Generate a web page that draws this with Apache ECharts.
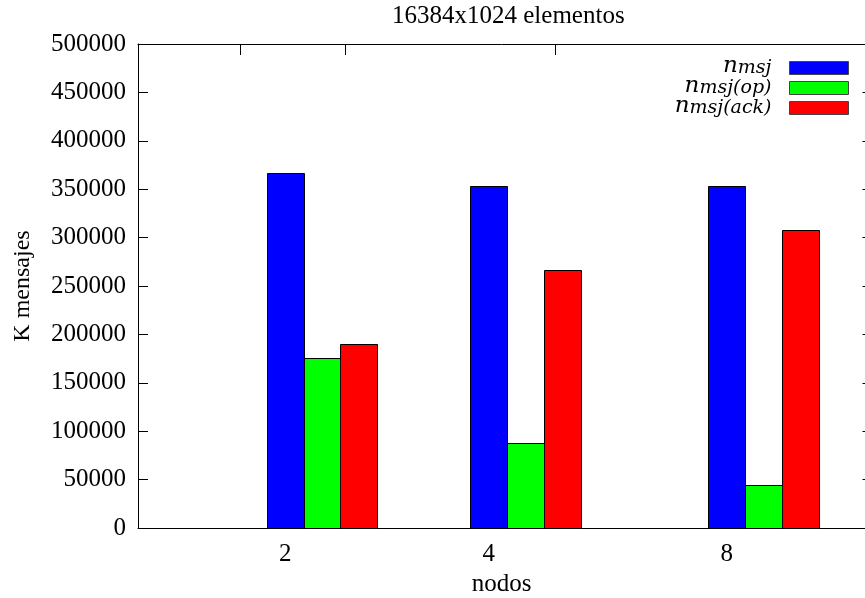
<!DOCTYPE html>
<html>
<head>
<meta charset="utf-8">
<script src="https://cdn.jsdelivr.net/npm/echarts@6/dist/echarts.min.js"></script>
<style>html,body{margin:0;padding:0;background:#fff}#c{width:865px;height:598px}</style>
</head>
<body>
<div id="c"></div>
<script>
// ---- data ----
const categories = ['2', '4', '8'];
const seriesNames = ['n_msj', 'n_msj(op)', 'n_msj(ack)'];
const nMsj = [367000, 353500, 352900];
const nMsjOp = [176000, 88300, 44000];
const nMsjAck = [190500, 266200, 308100];
const yTicks = [0, 50000, 100000, 150000, 200000, 250000, 300000, 350000, 400000, 450000, 500000];

// ---- layout (axis units of the x scale) ----
const groupPos = [2.856, 6.732, 11.265];
const barW = 0.7;
const xMin = 0.05, xMax = 13.898;

const FONT = 'Liberation Serif';
const MATH = 'DejaVu Serif';
const colors = ['#0000ff', '#00ff00', '#ff0000'];
const allValues = [nMsj, nMsjOp, nMsjAck];

function renderBar(params, api) {
  const k = params.seriesIndex;
  const base = api.coord([api.value(0), 0]);
  const top = api.coord([api.value(0), api.value(1)]);
  const w = api.size([barW, 0])[0];
  const x0 = Math.round(base[0] - w / 2 + k * w) + 0.5;
  const x1 = Math.round(base[0] - w / 2 + (k + 1) * w) + 0.5;
  const y0 = Math.round(top[1]) + 0.5;
  const y1 = Math.round(base[1]) + 0.5;
  return {
    type: 'rect',
    shape: { x: x0, y: y0, width: x1 - x0, height: y1 - y0 },
    style: { fill: colors[k], stroke: '#000', lineWidth: 1 }
  };
}

const series = seriesNames.map((name, k) => ({
  name: name,
  type: 'custom',
  xAxisIndex: 0,
  yAxisIndex: 0,
  renderItem: renderBar,
  itemStyle: { color: colors[k], borderColor: '#444', borderWidth: 1 },
  encode: { x: 0, y: 1 },
  data: categories.map((c, i) => [groupPos[i], allValues[k][i]])
}));

function labelFor(v) {
  let best = 0, d = Infinity;
  groupPos.forEach((p, i) => { if (Math.abs(p - v) < d) { d = Math.abs(p - v); best = i; } });
  return categories[best];
}

const axisLineStyle = { color: '#000', width: 1 };

const option = {
  animation: false,
  backgroundColor: '#fff',
  textStyle: { fontFamily: FONT, color: '#000' },
  title: {
    text: '16384x1024 elementos',
    left: 392,
    top: 4,
    padding: 0,
    textStyle: { fontFamily: FONT, fontSize: 25, fontWeight: 'normal', color: '#000' }
  },
  legend: {
    orient: 'vertical',
    right: 16,
    top: 55,
    align: 'right',
    itemWidth: 59,
    itemHeight: 13,
    itemGap: -3,
    padding: 0,
    icon: 'rect',
    selectedMode: false,
    data: seriesNames,
    itemStyle: { borderColor: '#444', borderWidth: 1 },
    formatter: function (name) {
      const sub = name.split('_')[1];
      return '{n|n}{s|' + sub + '}';
    },
    textStyle: {
      padding: [0, 13, 0, 0],
      rich: {
        n: { fontFamily: MATH, fontStyle: 'italic', fontSize: 23, lineHeight: 20, verticalAlign: 'bottom', color: '#000' },
        s: { fontFamily: MATH, fontStyle: 'italic', fontSize: 19, lineHeight: 10, verticalAlign: 'bottom', color: '#000' }
      }
    }
  },
  grid: { left: 138, right: 0, top: 44, bottom: 70, containLabel: false, outerBoundsMode: 'none' },
  xAxis: [
    {
      type: 'value', position: 'bottom', min: xMin, max: xMax,
      axisLine: { show: true, onZero: false, lineStyle: axisLineStyle },
      axisTick: { show: true, inside: true, length: 10, customValues: groupPos, lineStyle: axisLineStyle },
      axisLabel: { show: true, customValues: groupPos, formatter: labelFor, fontFamily: FONT, fontSize: 25, color: '#000', margin: 14 },
      splitLine: { show: false },
      name: 'nodos', nameLocation: 'middle', nameGap: 35,
      nameTextStyle: { fontFamily: FONT, fontSize: 25, color: '#000' }
    },
    {
      type: 'value', position: 'top', min: xMin, max: xMax,
      axisLine: { show: true, onZero: false, lineStyle: axisLineStyle },
      axisTick: { show: true, inside: true, length: 11, customValues: categories.map(Number), lineStyle: axisLineStyle },
      axisLabel: { show: false },
      splitLine: { show: false }
    }
  ],
  yAxis: [
    {
      type: 'value', position: 'left', min: 0, max: 500000, interval: 50000,
      axisLine: { show: true, onZero: false, lineStyle: axisLineStyle },
      axisTick: { show: true, inside: true, length: 10, lineStyle: axisLineStyle },
      axisLabel: { formatter: (v) => String(v), fontFamily: FONT, fontSize: 25, color: '#000', margin: 12, padding: [4, 0, 0, 0] },
      splitLine: { show: false },
      name: 'K mensajes', nameLocation: 'middle', nameGap: 103, nameRotate: 90,
      nameTextStyle: { fontFamily: FONT, fontSize: 24, color: '#000' }
    },
    {
      type: 'value', position: 'right', offset: 7.5, min: 0, max: 500000, interval: 50000,
      axisLine: { show: true, onZero: false, lineStyle: axisLineStyle },
      axisTick: { show: true, inside: true, length: 10, lineStyle: axisLineStyle },
      axisLabel: { show: false },
      splitLine: { show: false }
    }
  ],
  series: series
};

const chart = echarts.init(document.getElementById('c'), null, { renderer: 'canvas' });
chart.setOption(option);
</script>
</body>
</html>
